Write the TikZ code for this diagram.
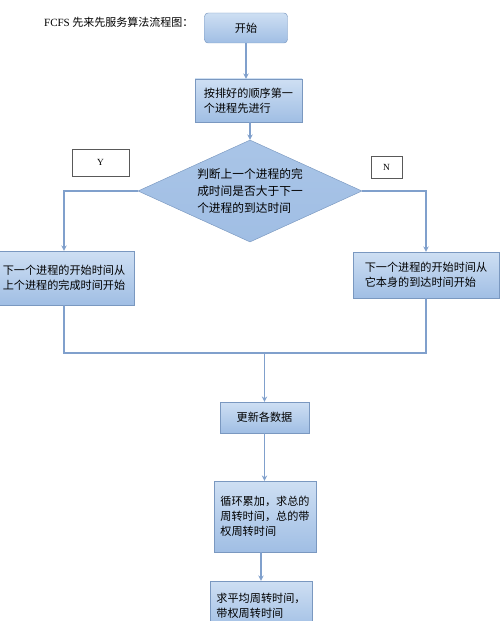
\documentclass[tikz,border=0pt]{standalone}
\usepackage{fontspec}
\setmainfont{Noto Sans CJK SC}
\newfontfamily\latinfont{Liberation Serif}
\usepackage{tikz}
\usetikzlibrary{shapes.geometric}

\definecolor{boxtop}{RGB}{206,223,243}
\definecolor{boxbottom}{RGB}{160,190,228}
\definecolor{boxline}{RGB}{122,152,192}
\definecolor{flowline}{RGB}{128,160,204}

\begin{document}
\begin{tikzpicture}[x=0.03cm,y=-0.03cm]
    \tikzstyle{edge}  = [line width=1pt,draw=flowline]
    \tikzstyle{dedge} = [line width=1pt,->,>=stealth,draw=flowline]
    \tikzstyle{process}=[
      draw=boxline,
      top color=boxtop,
      bottom color=boxbottom,
      anchor=center,
      align=left,
      inner sep=2pt,
      font=\fontsize{9.5}{12.8}\selectfont,
    ]
    \tikzstyle{startbox}=[
      process,
      rounded corners=3pt,
    ]
    \tikzstyle{decision}=[
      process,
      diamond,
      aspect=2.2,
      inner sep=0pt,
      top color=boxbottom!80!boxtop,
      bottom color=boxbottom,
      font=\fontsize{10}{14.5}\selectfont,
    ]
    \tikzstyle{tag}=[
      draw=black!65,
      line width=0.8pt,
      fill=white,
      font=\latinfont\fontsize{8}{9}\selectfont,
    ]

    \useasboundingbox (0,0) rectangle (500,621);

    % title
    {
      \node[anchor=west, font=\fontsize{9.4}{11}\selectfont] (title) at (40,22) {{\latinfont FCFS} 先来先服务算法流程图：};
    }

    % main column
    {
      \node[startbox, minimum width=2.49cm, minimum height=0.9cm] (start) at (246,28) {开始};
      \node[process, minimum width=3.21cm, minimum height=1.29cm] (order) at (248.5,100.5) {按排好的顺序第一\\个进程先进行};
      \node[decision, minimum width=6.72cm, minimum height=3.06cm] (judge) at (250,191) {判断上一个进程的完\\成时间是否大于下一\\个进程的到达时间};

      \node[process, minimum width=4.2cm, minimum height=1.62cm] (prevdone) at (64,278) {下一个进程的开始时间从\\上个进程的完成时间开始};
      \node[process, minimum width=4.38cm, minimum height=1.38cm] (arrival) at (426,275) {下一个进程的开始时间从\\它本身的到达时间开始};

      \node[process, minimum width=2.67cm, minimum height=0.93cm] (update) at (264.5,417.5) {更新各数据};
      \node[process, minimum width=3.06cm, minimum height=2.13cm] (loop) at (265,516.5) {循环累加，求总的\\周转时间，总的带\\权周转时间};
      \node[process, minimum width=3.06cm, minimum height=1.5cm] (avg) at (261,606) {求平均周转时间，\\带权周转时间};
    }

    % branch tags
    {
      \node[tag, minimum width=1.71cm, minimum height=0.81cm] (ytag) at (100.5,162.5) {Y};
      \node[tag, minimum width=0.93cm, minimum height=0.66cm] (ntag) at (386.5,167) {N};
    }

    % join
    {
      \coordinate (joinL) at (64,353);
      \coordinate (joinR) at (426,353);
      \coordinate (join) at (264.5,353);
    }

    % connectors
    {
      \draw[dedge] (start.south) -- (start.south |- order.north);
      \draw[dedge] (judge.north |- order.south) -- (judge.north);
      \draw[dedge] (judge.west) -| (prevdone.north);
      \draw[dedge] (judge.east) -| (arrival.north);
      \draw[edge] (prevdone.south) -- (joinL) -- (joinR) -- (arrival.south);
      \draw[dedge] (join) -- (update.north);
      \draw[dedge] (update.south) -- (update.south |- loop.north);
      \draw[dedge] (avg.north |- loop.south) -- (avg.north);
    }
\end{tikzpicture}
\end{document}
